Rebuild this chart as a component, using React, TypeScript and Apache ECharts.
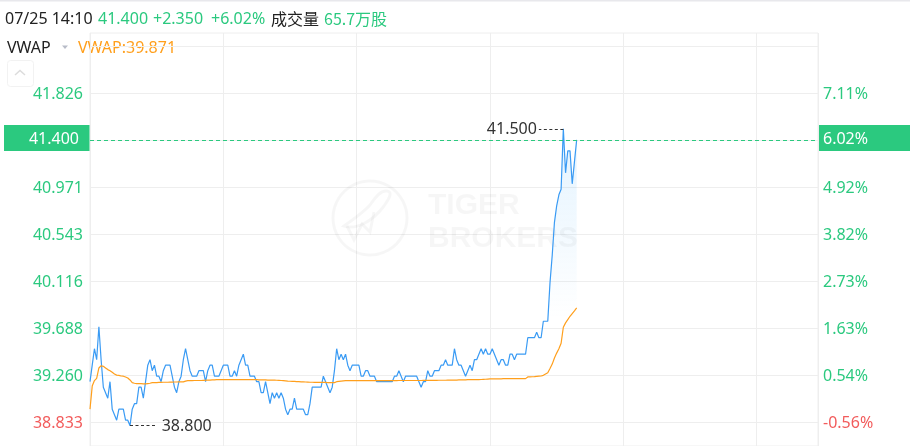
import React, { useEffect, useRef } from "react";
import * as echarts from "echarts";

const priceLabels = [38.833, 39.26, 39.688, 40.116, 40.543, 40.971, 41.826];
const priceTicks = [38.833, 39.26, 39.688, 40.116, 40.543, 40.971, 41.399, 41.826, 42.254];
const pctLabels = [-0.56, 0.54, 1.63, 2.73, 3.82, 4.92, 7.11];
const priceRange = [38.615, 42.372];
const pctRange = [-1.114, 8.507];
const minuteSlots = 327.6;
const lastPrice = 41.4;
const highMark = { index: 213, end: 202, value: 41.5 };
const lowMark = { index: 18, end: 30, value: 38.8 };

const priceValues = [
  39.2, 39.35, 39.5, 39.4, 39.7, 39.4, 39.15, 39.1, 39.05, 39.2,
  38.95, 38.9, 38.85, 38.95, 38.95, 38.95, 38.85, 38.85, 38.8, 38.95,
  39.0, 39.0, 39.15, 39.15, 39.05, 39.2, 39.35, 39.4, 39.3, 39.35,
  39.25, 39.25, 39.2, 39.3, 39.35, 39.35, 39.35, 39.25, 39.15, 39.1,
  39.2, 39.25, 39.4, 39.5, 39.4, 39.3, 39.25, 39.25, 39.25, 39.3,
  39.3, 39.3, 39.2, 39.3, 39.35, 39.35, 39.25, 39.25, 39.25, 39.3,
  39.35, 39.35, 39.35, 39.25, 39.25, 39.3, 39.25, 39.35, 39.4, 39.45,
  39.35, 39.35, 39.25, 39.25, 39.25, 39.2, 39.2, 39.1, 39.1, 39.2,
  39.1, 39.0, 39.1, 39.05, 39.1, 39.05, 39.1, 39.05, 38.95, 38.9,
  38.95, 38.95, 39.05, 38.95, 38.95, 38.95, 38.95, 38.9, 38.9, 39.0,
  39.15, 39.15, 39.15, 39.15, 39.15, 39.25, 39.2, 39.15, 39.1, 39.15,
  39.3, 39.5, 39.4, 39.45, 39.4, 39.45, 39.35, 39.3, 39.35, 39.35,
  39.35, 39.35, 39.25, 39.25, 39.3, 39.3, 39.25, 39.25, 39.25, 39.2,
  39.2, 39.2, 39.2, 39.2, 39.2, 39.2, 39.2, 39.25, 39.25, 39.3,
  39.25, 39.2, 39.25, 39.25, 39.25, 39.25, 39.25, 39.25, 39.2, 39.15,
  39.2, 39.2, 39.3, 39.25, 39.25, 39.3, 39.3, 39.3, 39.35, 39.35,
  39.4, 39.35, 39.35, 39.35, 39.5, 39.4, 39.35, 39.35, 39.3, 39.25,
  39.3, 39.35, 39.3, 39.4, 39.4, 39.45, 39.5, 39.45, 39.5, 39.45,
  39.45, 39.5, 39.45, 39.4, 39.35, 39.4, 39.4, 39.35, 39.35, 39.45,
  39.45, 39.4, 39.45, 39.45, 39.45, 39.45, 39.45, 39.6, 39.6, 39.6,
  39.6, 39.65, 39.6, 39.6, 39.75, 39.75, 39.75, 40.1, 40.35, 40.65,
  40.8, 40.9, 40.95, 41.5, 41.1, 41.3, 41.3, 41.0, 41.2, 41.4,
];

const vwapValues = [
  38.95, 39.16, 39.21, 39.23, 39.325, 39.345, 39.34, 39.325, 39.31, 39.3,
  39.285, 39.27, 39.26, 39.258, 39.252, 39.25, 39.243, 39.234, 39.216, 39.192,
  39.186, 39.183, 39.183, 39.182, 39.181, 39.18, 39.183, 39.186, 39.192, 39.192,
  39.192, 39.193, 39.194, 39.195, 39.195, 39.195, 39.196, 39.196, 39.197, 39.197,
  39.198, 39.198, 39.198, 39.205, 39.21, 39.21, 39.21, 39.211, 39.211, 39.211,
  39.211, 39.212, 39.213, 39.214, 39.215, 39.216, 39.217, 39.218, 39.218, 39.219,
  39.219, 39.219, 39.219, 39.219, 39.219, 39.219, 39.219, 39.219, 39.219, 39.219,
  39.219, 39.219, 39.219, 39.218, 39.218, 39.218, 39.217, 39.217, 39.216, 39.216,
  39.215, 39.215, 39.214, 39.214, 39.213, 39.212, 39.211, 39.209, 39.207, 39.205,
  39.204, 39.203, 39.202, 39.201, 39.2, 39.199, 39.198, 39.197, 39.196, 39.195,
  39.195, 39.194, 39.194, 39.194, 39.193, 39.193, 39.193, 39.192, 39.192, 39.192,
  39.192, 39.2, 39.203, 39.205, 39.207, 39.209, 39.21, 39.21, 39.21, 39.21,
  39.21, 39.21, 39.21, 39.21, 39.21, 39.21, 39.21, 39.21, 39.21, 39.21,
  39.21, 39.21, 39.21, 39.21, 39.21, 39.21, 39.21, 39.21, 39.21, 39.211,
  39.211, 39.211, 39.211, 39.211, 39.211, 39.211, 39.211, 39.211, 39.211, 39.211,
  39.212, 39.212, 39.212, 39.212, 39.212, 39.212, 39.212, 39.213, 39.213, 39.213,
  39.213, 39.214, 39.214, 39.214, 39.215, 39.215, 39.216, 39.216, 39.217, 39.217,
  39.218, 39.218, 39.218, 39.219, 39.219, 39.219, 39.22, 39.221, 39.222, 39.224,
  39.225, 39.225, 39.226, 39.226, 39.226, 39.226, 39.227, 39.227, 39.227, 39.227,
  39.227, 39.228, 39.228, 39.228, 39.228, 39.228, 39.228, 39.243, 39.243, 39.245,
  39.246, 39.248, 39.25, 39.252, 39.258, 39.27, 39.282, 39.32, 39.36, 39.415,
  39.46, 39.5, 39.55, 39.695, 39.735, 39.765, 39.795, 39.82, 39.845, 39.871,
];

const GREEN = "#2bc97f";
const RED = "#f25c5c";
const BLUE = "#3a9bf4";
const ORANGE = "#ff9f1c";
const FONT = '"Noto Sans", "Noto Sans CJK SC", sans-serif';
const CJK = '"Noto Sans CJK SC", sans-serif';

const headerTexts = [
  { text: "07/25 14:10", x: 5, color: "#222222", font: FONT },
  { text: "41.400", x: 98, color: GREEN, font: FONT },
  { text: "+2.350", x: 153, color: GREEN, font: FONT },
  { text: "+6.02%", x: 211, color: GREEN, font: FONT },
  { text: "成交量", x: 271, color: "#222222", font: CJK },
  { text: "65.7万股", x: 324, color: GREEN, font: CJK },
];

const crescent =
  "M344 226 C 356 230 372 222 384 206 C 391 196 392 192 387 191 C 381 190 376 196 370 205 C 363 213 352 220 344 226 Z";
echarts.graphic.registerShape("tigerLogo", echarts.graphic.extendPath(crescent, {}) as any);

export default function App() {
  const ref = useRef<HTMLDivElement>(null);
  useEffect(() => {
    const chart = echarts.init(ref.current!, null, { renderer: "svg" });
    const mark = "rgba(0,0,0,0.035)";
    chart.setOption({
      animation: false,
      grid: {
        left: 90,
        right: 92,
        top: 33,
        bottom: 0,
        show: true,
        borderColor: "#eeeeee",
        borderWidth: 1,
        z: 0,
      },
      xAxis: {
        type: "value",
        min: 0,
        max: minuteSlots,
        interval: 60,
        axisLine: { show: false },
        axisTick: { show: false },
        axisLabel: { show: false },
        splitLine: { show: true, lineStyle: { color: "#eeeeee", width: 1 } },
      },
      yAxis: [
        {
          type: "value",
          min: priceRange[0],
          max: priceRange[1],
          position: "left",
          axisLine: { show: false },
          axisTick: { show: false, customValues: priceTicks },
          axisLabel: {
            customValues: priceLabels,
            fontFamily: FONT,
            fontSize: 16,
            margin: 7,
            formatter: (v: number) => v.toFixed(3),
            color: (v: any) => (Number(v) < 39.05 ? RED : GREEN),
          },
          splitLine: { show: true, lineStyle: { color: "#eeeeee", width: 1 } },
        },
        {
          type: "value",
          min: pctRange[0],
          max: pctRange[1],
          position: "right",
          axisLine: { show: false },
          axisTick: { show: false },
          axisLabel: {
            customValues: pctLabels,
            fontFamily: FONT,
            fontSize: 16,
            margin: 5,
            formatter: (v: number) => v.toFixed(2) + "%",
            color: (v: any) => (Number(v) < 0 ? RED : GREEN),
          },
          splitLine: { show: false },
        },
      ],
      series: [
        {
          type: "line",
          data: priceValues.map((v, i) => [i, v]),
          showSymbol: false,
          symbol: "none",
          lineStyle: { color: BLUE, width: 1.2 },
          areaStyle: {
            origin: "start",
            color: {
              type: "linear",
              x: 0,
              y: 0,
              x2: 0,
              y2: 1,
              colorStops: [
                { offset: 0, color: "rgba(58,170,250,0.2)" },
                { offset: 0.6, color: "rgba(58,170,250,0)" },
                { offset: 1, color: "rgba(58,170,250,0)" },
              ],
            },
          },
          z: 3,
          markLine: {
            silent: true,
            symbol: "none",
            animation: false,
            data: [
              {
                yAxis: lastPrice,
                lineStyle: { color: GREEN, type: [4, 3], width: 1 },
                label: { show: false },
              },
              [
                {
                  coord: [highMark.index, highMark.value],
                  lineStyle: { color: "#333333", type: [3, 2.5], width: 1 },
                  label: {
                    show: true,
                    position: "end",
                    formatter: highMark.value.toFixed(3),
                    color: "#333333",
                    fontFamily: FONT,
                    fontSize: 16,
                    distance: 2,
                    offset: [0, -1],
                  },
                },
                { coord: [highMark.end, highMark.value] },
              ],
              [
                {
                  coord: [lowMark.index, lowMark.value],
                  lineStyle: { color: "#333333", type: [3, 2.5], width: 1 },
                  label: {
                    show: true,
                    position: "end",
                    formatter: lowMark.value.toFixed(3),
                    color: "#333333",
                    fontFamily: FONT,
                    fontSize: 16,
                    distance: 5,
                    offset: [0, -1],
                  },
                },
                { coord: [lowMark.end, lowMark.value] },
              ],
            ],
          },
        },
        {
          type: "line",
          data: vwapValues.map((v, i) => [i, v]),
          showSymbol: false,
          symbol: "none",
          lineStyle: { color: ORANGE, width: 1.2 },
          z: 4,
        },
      ],
      graphic: [
        { type: "rect", shape: { x: 0, y: 0, width: 910, height: 1.5 }, style: { fill: "#e8e8ec" }, silent: true },
        ...headerTexts.map((h) => ({
          type: "text",
          x: h.x,
          y: 18,
          style: { text: h.text, fill: h.color, font: `16px ${h.font}`, textVerticalAlign: "middle" },
          silent: true,
        })),
        { type: "text", x: 7, y: 47, style: { text: "VWAP", fill: "#222222", font: `16px ${FONT}`, textVerticalAlign: "middle" } },
        { type: "polygon", shape: { points: [[62, 45.5], [68, 45.5], [65, 49]] }, style: { fill: "#b8bcc8" } },
        { type: "text", x: 78, y: 47, style: { text: "VWAP:39.871", fill: ORANGE, font: `16px ${FONT}`, textVerticalAlign: "middle" } },
        { type: "rect", shape: { x: 7.5, y: 60.5, width: 26, height: 26, r: 3 }, style: { fill: "#ffffff", stroke: "#f2f2f2", lineWidth: 1 } },
        { type: "polyline", shape: { points: [[15, 75], [20, 70.5], [25, 75]] }, style: { fill: "none", stroke: "#dcdcdc", lineWidth: 1.5 } },
        { type: "rect", shape: { x: 4, y: 125, width: 85.5, height: 26 }, style: { fill: GREEN }, z: 5 },
        { type: "text", x: 79, y: 138, style: { text: "41.400", fill: "#ffffff", font: `16px ${FONT}`, textAlign: "right", textVerticalAlign: "middle" }, z: 6 },
        { type: "rect", shape: { x: 819, y: 125, width: 91, height: 26 }, style: { fill: GREEN }, z: 5 },
        { type: "text", x: 823, y: 138, style: { text: "6.02%", fill: "#ffffff", font: `16px ${FONT}`, textVerticalAlign: "middle" }, z: 6 },
        { type: "circle", shape: { cx: 370, cy: 218, r: 37 }, style: { fill: "none", stroke: mark, lineWidth: 3 }, z: 1 },
        { type: "tigerLogo", x: 0, y: 0, style: { fill: "none", stroke: mark, lineWidth: 3 }, z: 1 },
        { type: "polyline", shape: { points: [[347, 226], [354, 240], [362, 224], [370, 232], [374, 212]] }, style: { fill: "none", stroke: mark, lineWidth: 3 }, z: 1 },
        { type: "text", x: 428, y: 203, style: { text: "TIGER", fill: mark, font: `bold 30px "Liberation Sans", sans-serif`, textVerticalAlign: "middle" }, z: 1 },
        { type: "text", x: 428, y: 236, style: { text: "BROKERS", fill: mark, font: `bold 30px "Liberation Sans", sans-serif`, textVerticalAlign: "middle" }, z: 1 },
      ],
    });
    return () => chart.dispose();
  }, []);
  return <div ref={ref} style={{ position: "fixed", left: 0, top: 0, width: 910, height: 446 }} />;
}
